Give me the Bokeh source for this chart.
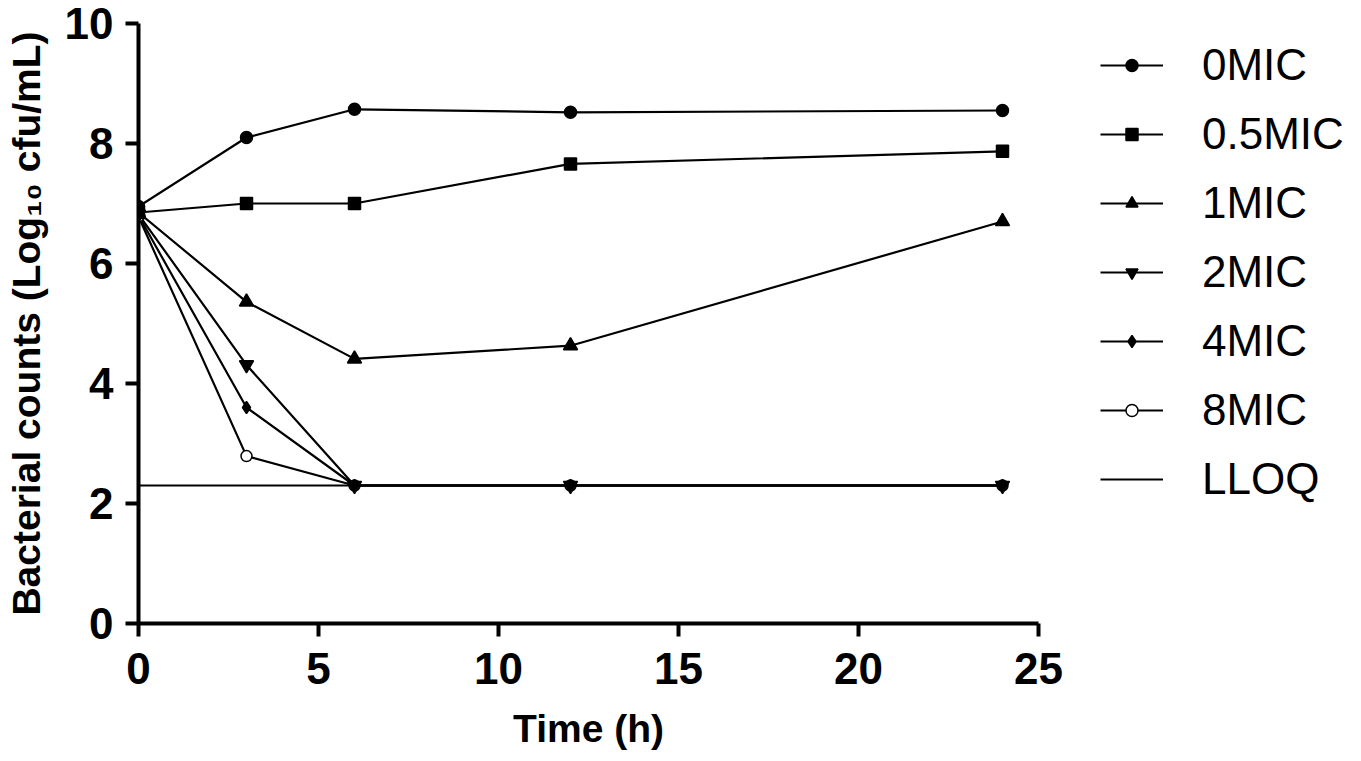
from bokeh.plotting import figure
from bokeh.models import Range1d, Legend, LegendItem, FixedTicker
from bokeh.embed import file_html
from bokeh.resources import INLINE

times = [0, 3, 6, 12, 24]
mic0 = [6.95, 8.10, 8.57, 8.52, 8.55]
mic05 = [6.85, 7.00, 7.00, 7.66, 7.87]
mic1 = [6.85, 5.36, 4.41, 4.63, 6.70]
mic2 = [6.82, 4.31, 2.30, 2.30, 2.30]
mic4 = [6.80, 3.60, 2.30, 2.30, 2.30]
mic8 = [6.78, 2.79, 2.30, 2.30, 2.30]
lloq_x = [0, 24]
lloq_y = [2.3, 2.3]
x_ticks = [0, 5, 10, 15, 20, 25]
y_ticks = [0, 2, 4, 6, 8, 10]

FONT = "Liberation Sans"

p = figure(output_backend="svg", toolbar_location=None,
           frame_width=900, frame_height=600,
           x_range=Range1d(0, 25), y_range=Range1d(0, 10),
           min_border_left=138, min_border_top=23, min_border_bottom=122,
           min_border_right=0)
p.outline_line_color = None
p.grid.visible = False
p.background_fill_color = "white"

for ax in (p.xaxis[0], p.yaxis[0]):
    ax.axis_line_width = 4
    ax.axis_line_color = "black"
    ax.major_tick_line_width = 4
    ax.major_tick_out = 13
    ax.major_tick_in = 0
    ax.minor_tick_line_color = None
    ax.major_label_text_font = FONT
    ax.major_label_text_font_style = "bold"
    ax.major_label_text_font_size = "44px"
    ax.major_label_text_color = "black"
    ax.axis_label_text_font = FONT
    ax.axis_label_text_font_style = "bold"
    ax.axis_label_text_font_size = "39px"
    ax.axis_label_text_color = "black"

p.xaxis.ticker = FixedTicker(ticks=x_ticks)
p.yaxis.ticker = FixedTicker(ticks=y_ticks)
p.xaxis.axis_label = "Time (h)"
p.yaxis.axis_label = "Bacterial counts (Log\u2081\u2080 cfu/mL)"
p.xaxis.major_label_standoff = 16
p.yaxis.major_label_standoff = 12
p.xaxis.axis_label_standoff = 20
p.yaxis.axis_label_standoff = 14

LW = 2.2
labels = ["0MIC", "0.5MIC", "1MIC", "2MIC", "4MIC", "8MIC"]
ys = [mic0, mic05, mic1, mic2, mic4, mic8]
markers = ["circle", "square", "triangle", "inverted_triangle", "diamond", "circle"]
sizes = [12, 12, 14, 14, 12, 11]
fills = ["black", "black", "black", "black", "black", "white"]

line_r = []
for y in ys:
    line_r.append(p.line(times, y, line_color="black", line_width=LW))
ll = p.line(lloq_x, lloq_y, line_color="black", line_width=2)

scat_r = [None] * 6
for i in reversed(range(6)):
    scat_r[i] = p.scatter(times, ys[i], marker=markers[i], size=sizes[i],
                          line_color="black", fill_color=fills[i], line_width=1.5)

items = [LegendItem(label=labels[i], renderers=[line_r[i], scat_r[i]]) for i in range(6)]
items.append(LegendItem(label="LLOQ", renderers=[ll]))

legend = Legend(items=items, location=(62, 118), orientation="vertical")
legend.border_line_color = None
legend.background_fill_alpha = 0
legend.padding = 0
legend.margin = 0
legend.spacing = 17
legend.label_height = 52
legend.glyph_height = 30
legend.glyph_width = 63
legend.label_standoff = 39
legend.label_text_font = FONT
legend.label_text_font_size = "44px"
legend.label_text_color = "black"
p.add_layout(legend, "right")

open("out.html", "w").write(file_html(p, INLINE))
